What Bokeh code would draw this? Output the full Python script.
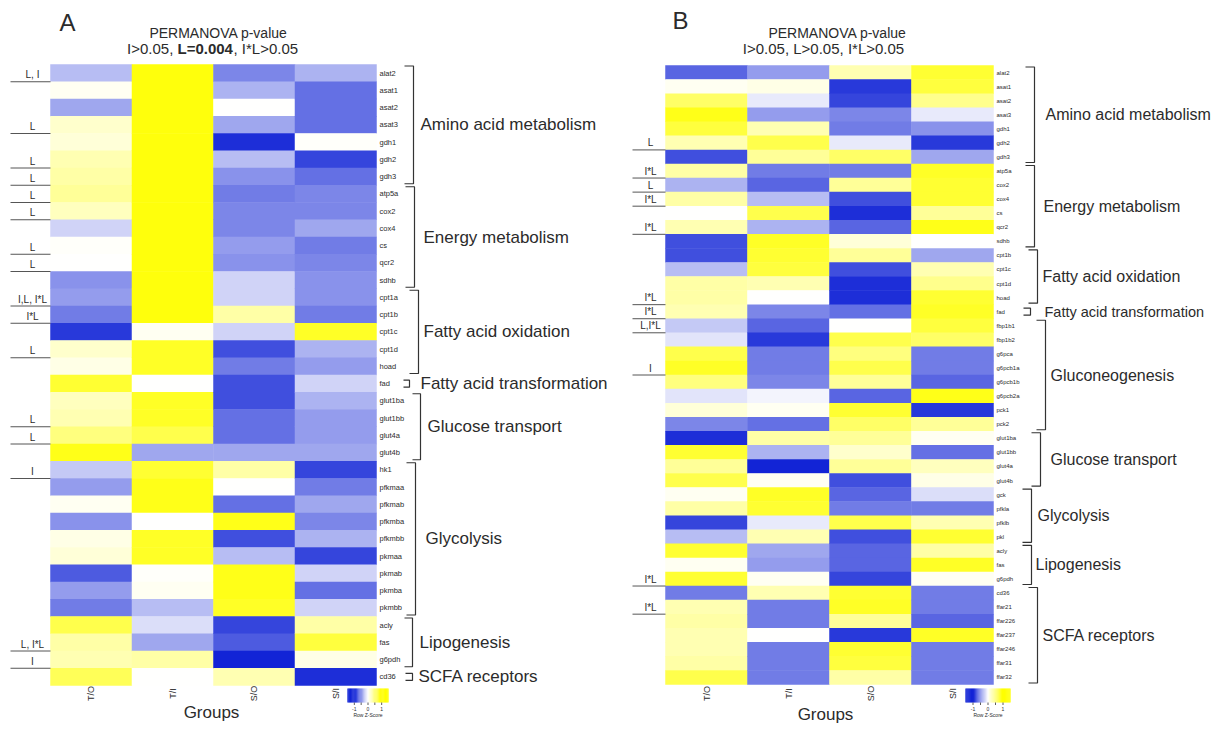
import math
import numpy as np
from bokeh.plotting import figure
from bokeh.models import ColumnDataSource, LinearColorMapper, Range1d
from bokeh.transform import transform
from bokeh.embed import file_html
from bokeh.resources import INLINE
from bokeh.core.properties import value

# ---------------- data ----------------
groups = ["T/O", "T/I", "S/O", "S/I"]

genes_a = ["alat2", "asat1", "asat2", "asat3", "gdh1", "gdh2", "gdh3",
           "atp5a", "cox2", "cox4", "cs", "qcr2", "sdhb",
           "cpt1a", "cpt1b", "cpt1c", "cpt1d", "hoad",
           "fad",
           "glut1ba", "glut1bb", "glut4a", "glut4b",
           "hk1", "pfkmaa", "pfkmab", "pfkmba", "pfkmbb", "pkmaa", "pkmab", "pkmba", "pkmbb",
           "acly", "fas", "g6pdh",
           "cd36"]
a_to = [-0.30, 0.05, -0.40, 0.20, 0.15, 0.30, 0.35,
        0.40, 0.25, -0.20, 0.02, 0.00, -0.50,
        -0.45, -0.60, -0.90, 0.20, 0.10,
        0.80,
        0.25, 0.30, 0.50, 0.90,
        -0.25, -0.45, 0.05, -0.50, 0.10, 0.15, -0.75, -0.45, -0.60,
        0.70, 0.35, 0.30,
        0.65]
a_ti = [0.95, 0.95, 0.95, 0.95, 0.95, 0.95, 0.95,
        0.95, 0.95, 0.95, 0.95, 0.95, 0.95,
        0.95, 0.95, 0.05, 0.85, 0.85,
        0.00,
        0.85, 0.85, 0.70, -0.40,
        0.80, 0.90, 0.90, 0.00, 0.85, 0.85, 0.02, 0.05, -0.30,
        -0.15, -0.40, 0.35,
        0.00]
a_so = [-0.55, -0.35, 0.00, -0.40, -0.95, -0.30, -0.50,
        -0.60, -0.55, -0.55, -0.45, -0.50, -0.20,
        -0.20, 0.35, -0.20, -0.80, -0.60,
        -0.80,
        -0.80, -0.65, -0.65, -0.40,
        0.35, 0.00, -0.65, 0.90, -0.80, -0.30, 0.90, 0.90, 0.85,
        -0.85, -0.75, -1.00,
        0.30]
a_si = [-0.35, -0.65, -0.65, -0.65, 0.02, -0.85, -0.65,
        -0.55, -0.55, -0.40, -0.60, -0.55, -0.50,
        -0.50, -0.60, 0.85, -0.35, -0.45,
        -0.20,
        -0.35, -0.45, -0.45, -0.40,
        -0.85, -0.60, -0.40, -0.55, -0.35, -0.85, -0.20, -0.65, -0.20,
        0.35, 0.75, 0.10,
        -0.95]
cats_a = ["Amino acid metabolism", "Energy metabolism", "Fatty acid oxidation",
          "Fatty acid transformation", "Glucose transport", "Glycolysis",
          "Lipogenesis", "SCFA receptors"]
cat_sizes_a = [7, 6, 5, 1, 4, 9, 3, 1]
annot_rows_a = [0, 3, 5, 6, 7, 8, 10, 11, 13, 14, 16, 20, 21, 23, 33, 34]
annot_text_a = ["L, I", "L", "L", "L", "L", "L", "L", "L", "I,L, I*L", "I*L",
                "L", "L", "L", "I", "L, I*L", "I"]

genes_b = ["alat2", "asat1", "asat2", "asat3", "gdh1", "gdh2", "gdh3",
           "atp5a", "cox2", "cox4", "cs", "qcr2", "sdhb",
           "cpt1b", "cpt1c", "cpt1d", "hoad",
           "fad",
           "fbp1b1", "fbp1b2", "g6pca", "g6pcb1a", "g6pcb1b", "g6pcb2a", "pck1", "pck2",
           "glut1ba", "glut1bb", "glut4a", "glut4b",
           "gck", "pfkla", "pfklb", "pkl",
           "acly", "fas", "g6pdh",
           "cd36", "ffar21", "ffar226", "ffar237", "ffar246", "ffar31", "ffar32"]
b_to = [-0.70, 0.05, 0.60, 0.90, 0.75, 0.30, -0.80,
        0.35, -0.35, 0.35, 0.00, 0.30, -0.80,
        -0.80, -0.30, 0.35, 0.35,
        0.30,
        -0.25, -0.12, 0.70, 0.85, 0.50, -0.12, 0.15, -0.55,
        -0.95, 0.80, 0.40, 0.70,
        0.05, 0.35, -0.85, -0.30,
        0.80, 0.05, 0.80,
        -0.60, 0.30, 0.35, 0.30, 0.30, 0.35, 0.70]
b_ti = [-0.45, 0.10, -0.10, -0.45, 0.30, 0.70, 0.40,
        -0.60, -0.70, -0.30, 0.70, -0.35, 0.85,
        0.80, 0.75, 0.30, 0.00,
        -0.55,
        -0.70, -0.90, -0.60, -0.60, -0.55, -0.05, 0.05, -0.65,
        0.35, -0.35, -1.00, 0.05,
        0.85, 0.80, -0.10, 0.30,
        -0.40, -0.45, 0.05,
        0.30, -0.60, -0.60, 0.00, -0.60, -0.60, -0.60]
b_so = [0.30, -0.90, -0.85, -0.55, -0.60, -0.10, 0.60,
        -0.60, 0.40, -0.80, -0.95, -0.70, 0.15,
        0.40, -0.80, -0.95, -0.95,
        -0.65,
        0.00, 0.70, 0.50, 0.70, 0.40, -0.70, 0.80, 0.60,
        0.40, 0.20, 0.40, -0.80,
        -0.70, -0.60, 0.70, -0.80,
        -0.70, -0.70, -0.85,
        0.80, 0.85, 0.40, -0.90, 0.80, 0.75, 0.35]
b_si = [0.80, 0.75, 0.45, -0.10, -0.50, -0.90, -0.40,
        0.85, 0.80, 0.80, 0.40, 0.90, 0.00,
        -0.40, 0.30, 0.45, 0.80,
        0.85,
        0.75, 0.60, -0.60, -0.60, -0.70, 0.90, -0.90, 0.40,
        0.05, -0.65, 0.25, 0.10,
        -0.15, -0.60, 0.30, 0.80,
        0.35, 0.85, 0.05,
        -0.60, -0.60, -0.70, 0.85, -0.60, -0.60, -0.60]
cats_b = ["Amino acid metabolism", "Energy metabolism", "Fatty acid oxidation",
          "Fatty acid transformation", "Gluconeogenesis", "Glucose transport",
          "Glycolysis", "Lipogenesis", "SCFA receptors"]
cat_sizes_b = [7, 6, 4, 1, 8, 4, 4, 3, 7]
annot_rows_b = [5, 7, 8, 9, 11, 16, 17, 18, 21, 36, 38]
annot_text_b = ["L", "I*L", "L", "I*L", "I*L", "I*L", "I*L", "L,I*L", "I", "I*L", "I*L"]

# ---------------- styling ----------------
FONT = "Liberation Sans"
TXT = "#2b2b2b"
W, H = 1211, 725


def make_palette():
    blue = (18, 36, 214)
    white = (255, 255, 255)
    yellow = (255, 255, 0)
    cols = []
    for k in range(256):
        t = k / 255 * 2 - 1
        tgt = blue if t < 0 else yellow
        a = abs(t)
        c = [round(white[i] * (1 - a) + tgt[i] * a) for i in range(3)]
        cols.append("#%02x%02x%02x" % tuple(c))
    return cols


mapper = LinearColorMapper(palette=make_palette(), low=-1, high=1)

p = figure(width=W, height=H, x_range=Range1d(0, W), y_range=Range1d(H, 0),
           output_backend="svg", toolbar_location=None, min_border=0,
           x_axis_location=None, y_axis_location=None)
p.grid.visible = False
p.outline_line_color = None
p.background_fill_color = "white"
p.border_fill_color = "white"


def txt(x, y, s, size, align="left", base="middle", angle=0.0, style="normal", color=TXT):
    p.text(x=[x], y=[y], text=[s], text_font=value(FONT), text_font_size=size,
           text_align=align, text_baseline=base, angle=angle, text_font_style=style,
           text_color=color)


def panel(genes, cols, cats, sizes, arows, atext, g):
    x0, x1, y0, y1 = g["box"]
    n = len(genes)
    cw = (x1 - x0) / len(groups)
    rh = (y1 - y0) / n
    xs, ys, vs = [], [], []
    for j, col in enumerate(cols):
        for i, v in enumerate(col):
            xs.append(x0 + (j + 0.5) * cw)
            ys.append(y0 + (i + 0.5) * rh)
            vs.append(v)
    src = ColumnDataSource(dict(x=xs, y=ys, v=vs))
    p.rect("x", "y", width=cw + 0.5, height=rh + 0.5, source=src,
           fill_color=transform("v", mapper), line_color=None)
    # gene labels
    p.text(x=[x1 + 3] * n, y=[y0 + (i + 0.5) * rh for i in range(n)], text=genes,
           text_font=value(FONT), text_font_size=g["gene_fs"], text_baseline="middle",
           text_align="left", text_color=TXT)
    # brackets and category labels
    start = 0
    for k, (c, sz) in enumerate(zip(cats, sizes)):
        top = y0 + start * rh + 1.5
        bot = y0 + (start + sz) * rh - 1.5
        if sz == 1:
            mid = (top + bot) / 2
            top, bot = mid - 3.5, mid + 3.5
        bx = g["bx"][k]
        tl = g["tick"][k]
        p.line([bx - tl, bx, bx, bx - tl], [top, top, bot, bot], line_color="#333333",
               line_width=1.2)
        txt(g["tx"][k], y0 + (start + sz / 2) * rh, c, g["cat_fs"][k])
        start += sz
    # significance annotations
    for r, t in zip(arows, atext):
        yb = y0 + (r + 1) * rh
        p.line([g["ax0"], x0], [yb, yb], line_color="#555555", line_width=1)
        txt(g["acx"], yb - 1.5, t, g["ann_fs"], align="center", base="bottom")
    # group labels
    for j, gname in enumerate(groups):
        txt(x0 + (j + 0.5) * cw, g["gy"], gname, "9px", align="center", angle=math.pi / 2)
    txt(g["groups_x"], g["groups_y"], "Groups", "17px", align="center")
    # colour key
    cx0, cx1, cy0, cy1 = g["cb"]
    kv = np.linspace(-1.5, 1.5, 48)
    kw = (cx1 - cx0) / len(kv)
    p.rect(x=[cx0 + (i + 0.5) * kw for i in range(len(kv))], y=[(cy0 + cy1) / 2] * len(kv),
           width=kw + 0.3, height=cy1 - cy0,
           fill_color=[mapper.palette[int(round((min(max(v, -1), 1) + 1) / 2 * 255))] for v in kv],
           line_color=None)
    scale = (cx1 - cx0) / 3.0
    xm = (cx0 + cx1) / 2
    for tv in [-1, -0.5, 0, 0.5, 1]:
        tx = xm + tv * scale
        p.line([tx, tx], [cy1, cy1 + 2.5], line_color="#333333", line_width=0.8)
    for tv, lab in [(-1, "-1"), (0, "0"), (1, "1")]:
        txt(xm + tv * scale, cy1 + 6, lab, "5px", align="center")
    txt(xm, cy1 + 12, "Row Z-Score", "5px", align="center")


geo_a = dict(box=(50, 376, 64, 685), gene_fs="7.5px", cat_fs=["17px"] * 8,
             bx=[413, 414, 418, 409, 420, 415, 412, 412],
             tick=[9, 9, 9, 6, 8, 9, 8, 7],
             tx=[420, 423, 423, 420, 427, 425, 419, 418],
             ax0=10, acx=32, ann_fs="10px", gy=693,
             groups_x=211, groups_y=712, cb=(347, 388, 688, 702))
geo_b = dict(box=(665, 993, 65, 684), gene_fs="6px",
             cat_fs=["16px", "16px", "16px", "14.5px", "16px", "16px", "16px", "16px", "16px"],
             bx=[1034, 1034, 1037, 1030, 1045, 1040, 1031, 1031, 1037],
             tick=[9, 9, 9, 7, 9, 9, 9, 9, 9],
             tx=[1045, 1043, 1042, 1044, 1050, 1050, 1037, 1035, 1042],
             ax0=632, acx=650, ann_fs="10px", gy=693,
             groups_x=825, groups_y=714, cb=(965, 1010, 688, 702))

panel(genes_a, [a_to, a_ti, a_so, a_si], cats_a, cat_sizes_a, annot_rows_a, annot_text_a, geo_a)
panel(genes_b, [b_to, b_ti, b_so, b_si], cats_b, cat_sizes_b, annot_rows_b, annot_text_b, geo_b)

# ---------------- headers ----------------
txt(67, 22, "A", "24px", align="center")
txt(218, 32, "PERMANOVA p-value", "14px", align="center")
txt(177, 48, "I>0.05, ", "15px", align="right")
txt(177, 48, "L=0.004", "15px", align="left", style="bold")
txt(233, 48, ", I*L>0.05", "15px", align="left")

txt(680, 20, "B", "24px", align="center")
txt(837, 32, "PERMANOVA p-value", "14px", align="center")
txt(823, 48, "I>0.05, L>0.05, I*L>0.05", "15px", align="center")

open("out.html", "w").write(file_html(p, INLINE))
